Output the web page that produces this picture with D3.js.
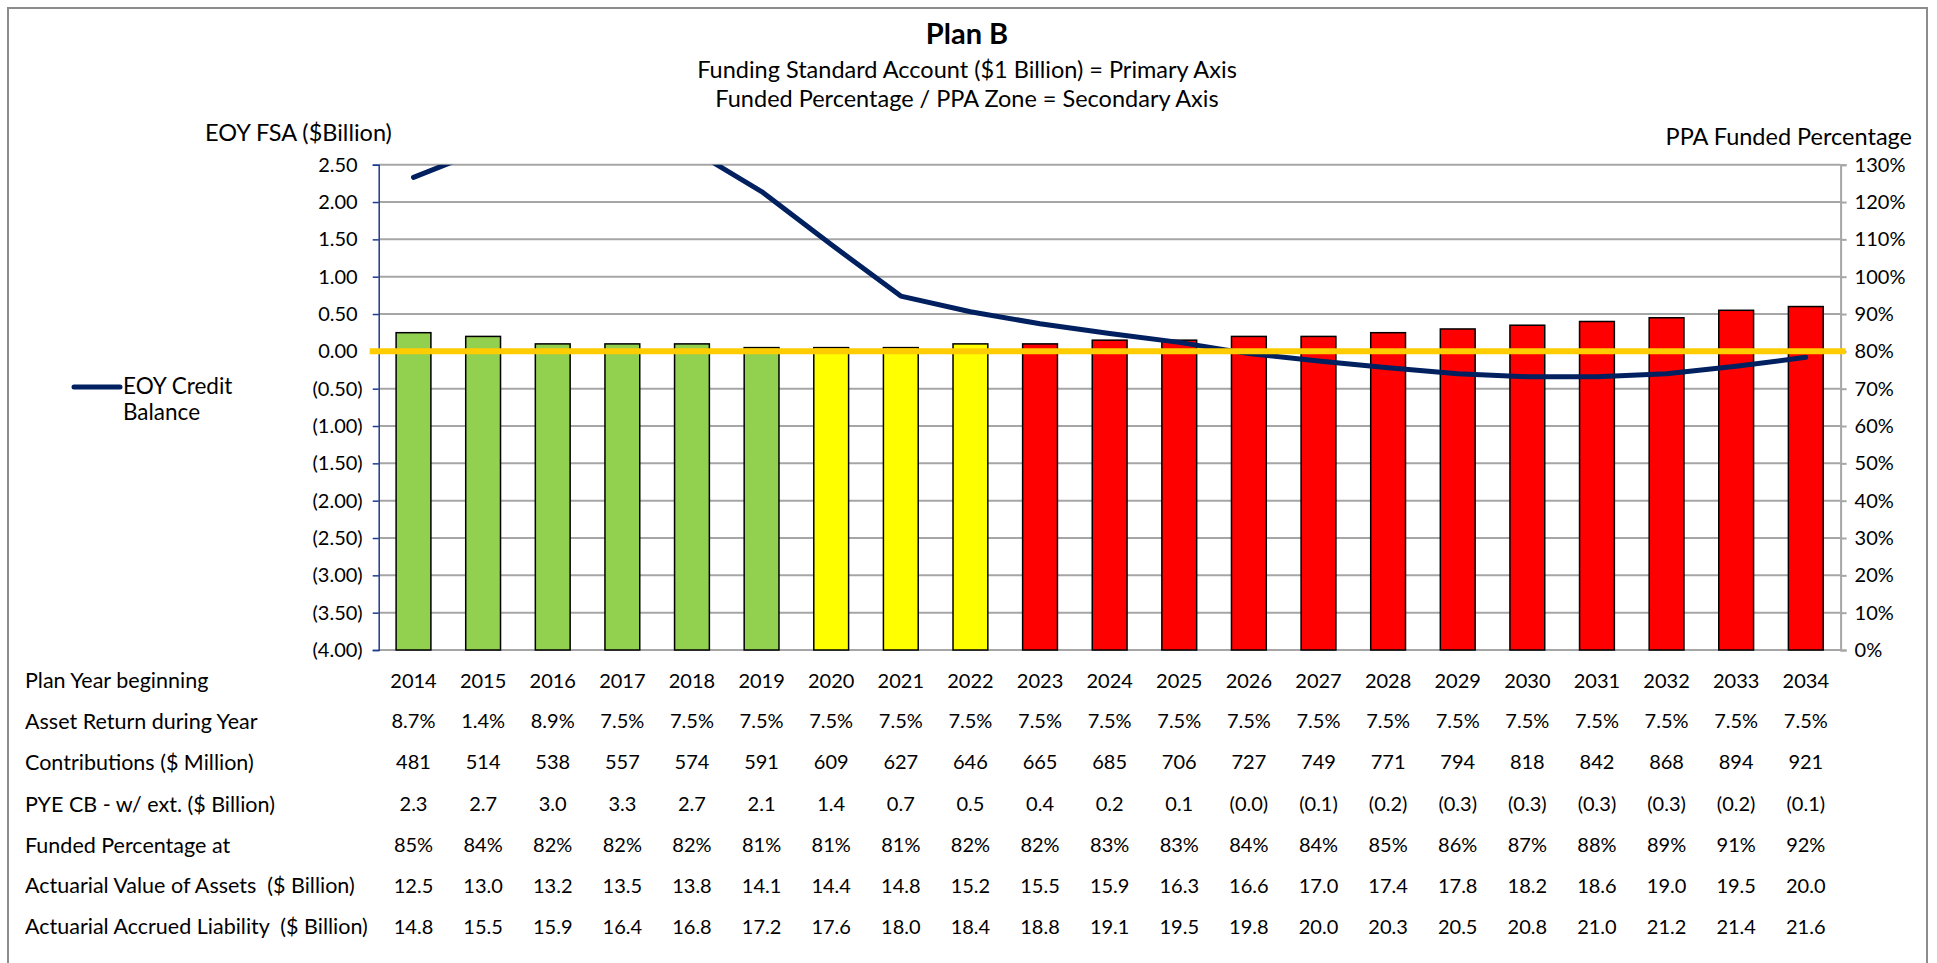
<!DOCTYPE html>
<html>
<head>
<meta charset="utf-8">
<script src="https://cdn.jsdelivr.net/npm/d3@7"></script>
<style>
  body { margin: 0; background: #fff; }
  svg text { font-family: Lato, "Open Sans", sans-serif; fill: #000; }
</style>
</head>
<body>
<div id="chart"></div>
<script>
// categories
const years = [2014, 2015, 2016, 2017, 2018, 2019, 2020, 2021, 2022, 2023, 2024,
    2025, 2026, 2027, 2028, 2029, 2030, 2031, 2032, 2033, 2034];

// PPA zone of each year (bar colour)
const ppaZone = ['green', 'green', 'green', 'green', 'green', 'green', 'yellow', 'yellow', 'yellow',
    'red', 'red', 'red', 'red', 'red', 'red', 'red', 'red', 'red', 'red', 'red', 'red'];

// funded percentage (secondary axis, bars)
const fundedPct = [85, 84, 82, 82, 82, 81, 81, 81, 82, 82, 83, 83, 84, 84, 85, 86, 87, 88, 89, 91, 92];

// EOY credit balance, $ billion (primary axis, line)
const creditBalance = [2.33, 2.7, 3.0, 3.3, 2.7, 2.14, 1.43, 0.74, 0.53, 0.37, 0.24, 0.12,
    -0.03, -0.13, -0.22, -0.3, -0.34, -0.34, -0.3, -0.2, -0.08];

// table rows
const assetReturn = [8.7, 1.4, 8.9, 7.5, 7.5, 7.5, 7.5, 7.5, 7.5, 7.5, 7.5, 7.5, 7.5, 7.5, 7.5, 7.5, 7.5, 7.5, 7.5, 7.5, 7.5];
const contributions = [481, 514, 538, 557, 574, 591, 609, 627, 646, 665, 685, 706, 727, 749, 771, 794, 818, 842, 868, 894, 921];
const assetsAVA = [12.5, 13.0, 13.2, 13.5, 13.8, 14.1, 14.4, 14.8, 15.2, 15.5, 15.9, 16.3, 16.6, 17.0, 17.4, 17.8, 18.2, 18.6, 19.0, 19.5, 20.0];
const liabilityAAL = [14.8, 15.5, 15.9, 16.4, 16.8, 17.2, 17.6, 18.0, 18.4, 18.8, 19.1, 19.5, 19.8, 20.0, 20.3, 20.5, 20.8, 21.0, 21.2, 21.4, 21.6];

// axis ticks
const leftTicks = [-4, -3.5, -3, -2.5, -2, -1.5, -1, -0.5, 0, 0.5, 1, 1.5, 2, 2.5];
const rightTicks = [0, 10, 20, 30, 40, 50, 60, 70, 80, 90, 100, 110, 120, 130];
const ppaThreshold = 80;

const zoneColor = { green: '#92d050', yellow: '#ffff00', red: '#ff0000' };

const W = 1937, H = 963;
const m = { left: 378.7, right: 1840.6, top: 164.7, bottom: 650 };

const svg = d3.select('#chart')
    .append('svg')
    .attr('width', W)
    .attr('height', H);

// chart border
svg.append('rect')
    .attr('x', 8).attr('y', 8)
    .attr('width', 1919).attr('height', 980)
    .attr('fill', 'none')
    .attr('stroke', '#8c8c8c')
    .attr('stroke-width', 2);

// scales
const x = d3.scaleBand()
    .domain(years)
    .range([m.left, m.right])
    .paddingInner(0.5)
    .paddingOuter(0.25);

const y = d3.scaleLinear()
    .domain([-4, 2.5])
    .range([m.bottom, m.top]);

const y2 = d3.scaleLinear()
    .domain([0, 130])
    .range([m.bottom, m.top]);

// titles
svg.append('text')
    .attr('x', 967).attr('y', 44)
    .attr('text-anchor', 'middle')
    .style('font-size', '29px')
    .style('font-weight', 'bold')
    .text('Plan B');

svg.append('text')
    .attr('x', 967).attr('y', 78)
    .attr('text-anchor', 'middle')
    .style('font-size', '23.5px')
    .text('Funding Standard Account ($1 Billion) = Primary Axis');

svg.append('text')
    .attr('x', 967).attr('y', 107)
    .attr('text-anchor', 'middle')
    .style('font-size', '23.5px')
    .text('Funded Percentage / PPA Zone = Secondary Axis');

svg.append('text')
    .attr('x', 205).attr('y', 141)
    .style('font-size', '23.5px')
    .text('EOY FSA ($Billion)');

svg.append('text')
    .attr('x', 1912).attr('y', 145)
    .attr('text-anchor', 'end')
    .style('font-size', '23.5px')
    .text('PPA Funded Percentage');

// gridlines
svg.append('g')
    .attr('class', 'grid')
    .selectAll('line')
    .data(leftTicks)
    .enter()
    .append('line')
    .attr('x1', m.left)
    .attr('x2', m.right)
    .attr('y1', d => y(d))
    .attr('y2', d => y(d))
    .attr('stroke', '#a6a6a6')
    .attr('stroke-width', 2);

// left axis
const fmtLeft = d => d < 0 ? '(' + d3.format('.2f')(-d) + ')' : d3.format('.2f')(d);
const gl = svg.append('g')
    .attr('transform', `translate(${m.left},0)`)
    .call(d3.axisLeft(y).tickValues(leftTicks).tickSize(6).tickPadding(10).tickFormat(fmtLeft));
gl.select('.domain').attr('stroke', '#1f3b8c').attr('stroke-width', 1.5);
gl.selectAll('.tick line').attr('stroke', '#1f3b8c').attr('stroke-width', 1.5);
gl.selectAll('.tick text')
    .style('font-size', '20px')
    .attr('dx', d => d < 0 ? 0 : -5)
    .attr('fill', '#000');

// right axis
const gr = svg.append('g')
    .attr('transform', `translate(${m.right},0)`)
    .call(d3.axisRight(y2).tickValues(rightTicks).tickSize(6).tickPadding(8).tickFormat(d => d + '%'));
gr.select('.domain').attr('stroke', '#a6a6a6').attr('stroke-width', 2);
gr.selectAll('.tick line').attr('stroke', '#a6a6a6').attr('stroke-width', 2);
gr.selectAll('.tick text')
    .style('font-size', '20px')
    .attr('fill', '#000');

// bars (secondary axis)
svg.append('g')
    .selectAll('rect')
    .data(years)
    .enter()
    .append('rect')
    .attr('x', d => x(d))
    .attr('y', (d, i) => y2(fundedPct[i]))
    .attr('width', x.bandwidth())
    .attr('height', (d, i) => y2(0) - y2(fundedPct[i]))
    .attr('fill', (d, i) => zoneColor[ppaZone[i]])
    .attr('stroke', '#000')
    .attr('stroke-width', 1.5);

// credit balance line, clipped to the plot area
svg.append('clipPath')
    .attr('id', 'plotclip')
    .append('rect')
    .attr('x', m.left).attr('y', m.top)
    .attr('width', m.right - m.left).attr('height', m.bottom - m.top);

const line = d3.line()
    .x((d, i) => x(years[i]) + x.bandwidth() / 2)
    .y(d => y(d));

svg.append('path')
    .datum(creditBalance)
    .attr('clip-path', 'url(#plotclip)')
    .attr('d', line)
    .attr('fill', 'none')
    .attr('stroke', '#002060')
    .attr('stroke-width', 5)
    .attr('stroke-linecap', 'round')
    .attr('stroke-linejoin', 'round');

// PPA 80% threshold line
svg.append('line')
    .attr('x1', m.left - 9)
    .attr('x2', m.right + 5)
    .attr('y1', y2(ppaThreshold))
    .attr('y2', y2(ppaThreshold))
    .attr('stroke', '#ffcc00')
    .attr('stroke-width', 6);

// legend
svg.append('line')
    .attr('x1', 74).attr('x2', 120)
    .attr('y1', 387).attr('y2', 387)
    .attr('stroke', '#002060')
    .attr('stroke-width', 5)
    .attr('stroke-linecap', 'round');
svg.append('text')
    .attr('x', 123).attr('y', 394)
    .style('font-size', '22.5px')
    .text('EOY Credit');
svg.append('text')
    .attr('x', 123).attr('y', 420)
    .style('font-size', '22.5px')
    .text('Balance');

// data table under the chart
const fmt1 = d3.format('.1f');
const fmtCB = d => {
    const s = fmt1(Math.abs(d));
    return d < 0 ? '(' + s + ')' : s;
};
const tableRows = [
    { label: 'Plan Year beginning', values: years.map(String) },
    { label: 'Asset Return during Year', values: assetReturn.map(d => fmt1(d) + '%') },
    { label: 'Contributions ($ Million)', values: contributions.map(String) },
    { label: 'PYE CB - w/ ext. ($ Billion)', values: creditBalance.map(fmtCB) },
    { label: 'Funded Percentage at', values: fundedPct.map(d => d + '%') },
    { label: 'Actuarial Value of Assets  ($ Billion)', values: assetsAVA.map(fmt1) },
    { label: 'Actuarial Accrued Liability  ($ Billion)', values: liabilityAAL.map(fmt1) }
];
const rowY = [680.6, 721.4, 762.2, 804.2, 845, 885.7, 926.5];

const rows = svg.append('g')
    .selectAll('g')
    .data(tableRows)
    .enter()
    .append('g')
    .attr('transform', (d, i) => `translate(0,${rowY[i]})`);

rows.append('text')
    .attr('x', 25)
    .attr('dy', '0.35em')
    .style('font-size', '21.5px')
    .style('white-space', 'pre')
    .text(d => d.label);

rows.selectAll('.val')
    .data(d => d.values)
    .enter()
    .append('text')
    .attr('class', 'val')
    .attr('x', (d, i) => x(years[i]) + x.bandwidth() / 2)
    .attr('dy', '0.35em')
    .attr('text-anchor', 'middle')
    .style('font-size', '20px')
    .text(d => d);
</script>
</body>
</html>
